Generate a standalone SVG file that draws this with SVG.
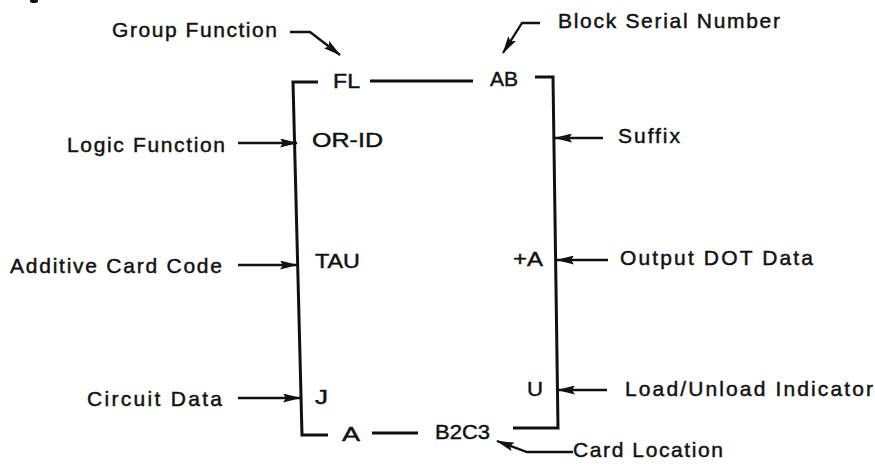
<svg xmlns="http://www.w3.org/2000/svg" width="875" height="470" viewBox="0 0 875 470">
<style>
text{font-family:"Liberation Sans","DejaVu Sans",Arial,sans-serif;font-size:21px;fill:#111;stroke:#111;stroke-width:0.45}
.ln{fill:none;stroke:#111;stroke-width:3;stroke-linejoin:miter;stroke-linecap:butt}
.ar{fill:none;stroke:#111;stroke-width:2.3;marker-end:url(#ah)}
</style>
<defs>
<marker id="ah" viewBox="0 0 18 9" markerWidth="18" markerHeight="9" refX="17" refY="4.5" orient="auto" markerUnits="userSpaceOnUse">
<path d="M0,0 L18,4.5 L0,9 L3,4.5 z" fill="#111"/>
</marker>
</defs>
<rect width="875" height="470" fill="#fff"/>
<ellipse cx="34" cy="1" rx="4" ry="2" fill="#111"/>

<g id="block">
<path class="ln" d="M318,82 L293,82 L302,435 L328,435"/>
<path class="ln" d="M535,77 L553,77 L558,428 L513,428"/>
<path class="ln" d="M370,81 L473,81"/>
<path class="ln" d="M372,433 L418,433"/>
<text x="333" y="88" textLength="27" lengthAdjust="spacingAndGlyphs">FL</text>
<text x="490" y="86" textLength="28" lengthAdjust="spacingAndGlyphs">AB</text>
<text x="312" y="147" textLength="71" lengthAdjust="spacingAndGlyphs">OR-ID</text>
<text x="315" y="268" textLength="45" lengthAdjust="spacingAndGlyphs">TAU</text>
<text x="513" y="266" textLength="30" lengthAdjust="spacingAndGlyphs">+A</text>
<text x="315" y="404" textLength="13" lengthAdjust="spacingAndGlyphs">J</text>
<text x="527" y="396" textLength="16" lengthAdjust="spacingAndGlyphs">U</text>
<text x="342" y="441" textLength="18" lengthAdjust="spacingAndGlyphs">A</text>
<text x="435" y="439" textLength="55" lengthAdjust="spacingAndGlyphs">B2C3</text>
</g>

<g id="group-function"><text x="112" y="37" textLength="165" lengthAdjust="spacing">Group Function</text></g>
<g id="block-serial-number"><text x="558" y="28" textLength="222" lengthAdjust="spacing">Block Serial Number</text></g>
<g id="logic-function"><text x="67" y="152" textLength="158" lengthAdjust="spacing">Logic Function</text></g>
<g id="suffix"><text x="618" y="143" textLength="62" lengthAdjust="spacing">Suffix</text></g>
<g id="additive-card-code"><text x="10" y="273" textLength="212" lengthAdjust="spacing">Additive Card Code</text></g>
<g id="output-dot-data"><text x="620" y="265" textLength="193" lengthAdjust="spacing">Output DOT Data</text></g>
<g id="circuit-data"><text x="87" y="406" textLength="135" lengthAdjust="spacing">Circuit Data</text></g>
<g id="load-unload-indicator"><text x="625" y="396" textLength="248" lengthAdjust="spacing">Load/Unload Indicator</text></g>
<g id="card-location"><text x="573" y="457" textLength="150" lengthAdjust="spacing">Card Location</text></g>

<g id="connectors">
<path class="ar" d="M290,32 L310,32 L340,55"/>
<path class="ar" d="M540,23 L522,23 L503,53"/>
<path class="ar" d="M238,143 L297,143"/>
<path class="ar" d="M238,265 L297,265"/>
<path class="ar" d="M238,398 L300,398"/>
<path class="ar" d="M603,138 L555,138"/>
<path class="ar" d="M608,260 L557,260"/>
<path class="ar" d="M607,390 L558,390"/>
<path class="ar" d="M573,452 L527,452 L497,441"/>
</g>
</svg>
